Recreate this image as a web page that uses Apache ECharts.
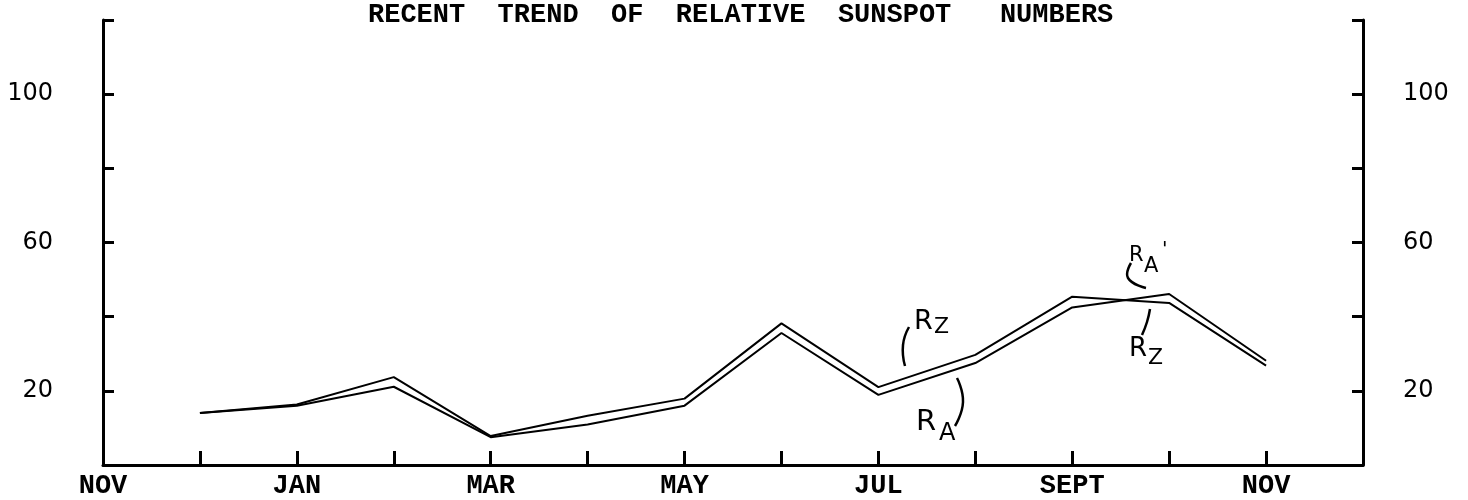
<!DOCTYPE html>
<html>
<head>
<meta charset="utf-8">
<script src="https://cdn.jsdelivr.net/npm/echarts@6/dist/echarts.min.js"></script>
<style>
  html, body { margin: 0; padding: 0; background: #fff; }
  #chart { width: 1468px; height: 500px; }
</style>
</head>
<body>
<div id="chart"></div>
<script>
// months from one November to the December after the next one
const months = ["NOV", "DEC", "JAN", "FEB", "MAR", "APR", "MAY", "JUN", "JUL", "AUG", "SEPT", "OCT", "NOV", "DEC"]
// values (DEC .. NOV)
const rz = [null, 14, 16.3, 23.7, 7.8, 13.3, 17.9, 38.2, 21.0, 29.7, 45.4, 43.7, 26.8, null]
const ra = [null, 14, 16.0, 21.1, 7.5, 10.9, 16.0, 35.6, 18.9, 27.5, 42.5, 46.1, 28.1, null]
const yTicks = [20, 60, 100]

const chart = echarts.init(document.getElementById("chart"))
const typeFont = "'Liberation Mono', 'DejaVu Sans Mono', monospace"
const handFont = "'DejaVu Sans', sans-serif"

const yAxisBase = {
  type: "value",
  min: 0,
  max: 120,
  interval: 20,
  splitLine: { show: false },
  axisLine: { show: true, lineStyle: { color: "#000", width: 3 } },
  axisTick: { show: true, inside: true, length: 11, lineStyle: { color: "#000", width: 3 } },
  axisLabel: {
    color: "#000",
    fontFamily: handFont,
    fontSize: 24,
    formatter: v => (yTicks.indexOf(v) >= 0 ? String(v) : "")
  }
}

// hand lettering: one glyph per text element
function letter(s, x, y, size) {
  return {
    type: "text",
    left: x,
    top: y,
    style: { text: s, fontFamily: handFont, fontSize: size, fill: "#000" }
  }
}
function stroke(points) {
  return {
    type: "polyline",
    shape: { points: points, smooth: 0.5 },
    style: { stroke: "#000", lineWidth: 2.5, fill: null }
  }
}

chart.setOption({
  animation: false,
  backgroundColor: "#fff",
  title: {
    text: "RECENT  TREND  OF  RELATIVE  SUNSPOT   NUMBERS",
    left: 363,
    top: -3,
    textStyle: { fontFamily: typeFont, fontSize: 27, fontWeight: "bold", color: "#000" }
  },
  grid: { left: 103, right: 105, top: 20, bottom: 31 },
  xAxis: {
    type: "category",
    data: months,
    boundaryGap: false,
    axisLine: { lineStyle: { color: "#000", width: 3 } },
    axisTick: { inside: true, length: 14, interval: 0, lineStyle: { color: "#000", width: 3 } },
    axisLabel: {
      interval: 1,
      margin: 8,
      color: "#000",
      fontFamily: typeFont,
      fontSize: 27,
      fontWeight: "bold"
    },
    splitLine: { show: false }
  },
  yAxis: [
    Object.assign({}, yAxisBase, { position: "left", axisLabel: Object.assign({}, yAxisBase.axisLabel, { margin: 50 }) }),
    Object.assign({}, yAxisBase, { position: "right", axisLabel: Object.assign({}, yAxisBase.axisLabel, { margin: 40 }) })
  ],
  series: [
    {
      name: "Rz",
      type: "line",
      data: rz,
      symbol: "none",
      lineStyle: { color: "#000", width: 2 }
    },
    {
      name: "RA",
      type: "line",
      data: ra,
      symbol: "none",
      lineStyle: { color: "#000", width: 2 }
    }
  ],
  graphic: [
    // R_Z above the Jul-Aug segment
    stroke([[909, 327], [903, 345], [905, 366]]),
    letter("R", 914, 308, 27),
    letter("Z", 934, 316, 22),
    // R_A below it
    stroke([[957, 378], [963, 402], [955, 426]]),
    letter("R", 916, 408, 29),
    letter("A", 939, 422, 24),
    // R_A' near the Sept-Oct crossing
    stroke([[1131, 263], [1128, 278], [1146, 288]]),
    letter("R", 1129, 245, 21),
    letter("A", 1144, 256, 21),
    letter("'", 1162, 240, 20),
    // R_Z below the crossing
    stroke([[1150, 309], [1147, 322], [1142, 335]]),
    letter("R", 1129, 336, 26),
    letter("Z", 1148, 347, 22)
  ]
})
</script>
</body>
</html>
